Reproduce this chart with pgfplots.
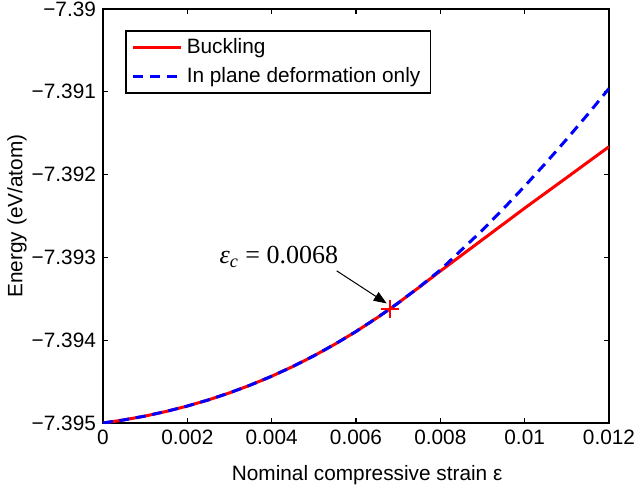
\documentclass[border=0pt]{standalone}
\usepackage{pgfplots}
\pgfplotsset{compat=1.18}
\usepackage{fontspec}
\setmainfont{Liberation Sans}
\newfontfamily\timesfont{Liberation Serif}
\usetikzlibrary{arrows.meta}

% buckling: same as in-plane up to eps_c, then nearly straight
\pgfplotstableread{
x y
0      -7.395
0.0005 -7.394962
0.001  -7.394916
0.0015 -7.39486
0.002  -7.394795
0.0025 -7.394721
0.003  -7.394636
0.0035 -7.394541
0.004  -7.394435
0.0045 -7.394318
0.005  -7.394189
0.0055 -7.394048
0.006  -7.393895
0.0065 -7.393729
0.0068 -7.393623
0.007  -7.39355
0.0075 -7.39336
0.008  -7.393165
0.009  -7.392785
0.01   -7.392405
0.011  -7.392035
0.012  -7.391663
}\buckling

\pgfplotstableread{
x y
0      -7.395
0.0005 -7.394962
0.001  -7.394916
0.0015 -7.39486
0.002  -7.394795
0.0025 -7.394721
0.003  -7.394636
0.0035 -7.394541
0.004  -7.394435
0.0045 -7.394318
0.005  -7.394189
0.0055 -7.394048
0.006  -7.393895
0.0065 -7.393729
0.0068 -7.393623
0.007  -7.39355
0.0075 -7.393358
0.008  -7.393152
0.0085 -7.39291
0.009  -7.39267
0.0095 -7.39241
0.01   -7.39214
0.0105 -7.39186
0.011  -7.39157
0.0115 -7.39127
0.012  -7.39096
}\inplane

\begin{document}
\begin{tikzpicture}[font=\fontsize{10.4}{12.5}\selectfont]
\begin{axis}[
    name=ax, at={(0,0)}, anchor=south west,
    scale only axis,
    width=253pt, height=207pt,
    xmin=0, xmax=0.012,
    ymin=-7.395, ymax=-7.39,
    scaled x ticks=false, scaled y ticks=false,
    xtick={0,0.002,0.004,0.006,0.008,0.01,0.012},
    xticklabels={0,0.002,0.004,0.006,0.008,0.01,0.012},
    ytick={-7.395,-7.394,-7.393,-7.392,-7.391,-7.39},
    yticklabels={−7.395,−7.394,−7.393,−7.392,−7.391,−7.39},
    tick align=inside,
    major tick length=2.5pt,
    tick style={black, line width=0.6pt},
    axis line style={line width=0.9pt},
    xlabel={Nominal compressive strain ε},
    ylabel={Energy (eV/atom)},
    xlabel style={at={(axis description cs:0.522,-0.125)}, anchor=center},
    ylabel style={at={(axis description cs:-0.17,0.5)}, anchor=center},
    legend image code/.code={\draw[#1] (0pt,0pt) -- (24pt,0pt);},
    legend style={at={(0.0435,0.949)}, anchor=north west, draw=black,
        line width=0.8pt, inner xsep=3pt, inner ysep=2pt, row sep=1pt},
    legend cell align=left,
]
\addplot[red, line width=1.5pt, no marks] table[x=x, y=y] {\buckling};
\addlegendentry{Buckling}
\addplot[blue, line width=1.5pt, no marks, dash pattern=on 5pt off 3.3pt] table[x=x, y=y] {\inplane};
\addlegendentry{In plane deformation only}
\addplot[red, only marks, mark=+, mark size=4.4pt, line width=1.2pt, forget plot] coordinates {(0.0068,-7.393623)};
\node[font=\timesfont\fontsize{13}{15}\selectfont] at (axis cs:0.00417,-7.392993)
    {{\itshape ε}\textsubscript{\itshape c} = 0.0068};
\draw[line width=0.5pt, -{Triangle[length=6.5pt,width=5pt]}]
    (axis cs:0.005542,-7.393162) -- (axis cs:0.006728,-7.393556);
\end{axis}
\pgfresetboundingbox
\path[use as bounding box] (-51.5pt,-35.5pt) rectangle (267pt,211.5pt);
\end{tikzpicture}
\end{document}
